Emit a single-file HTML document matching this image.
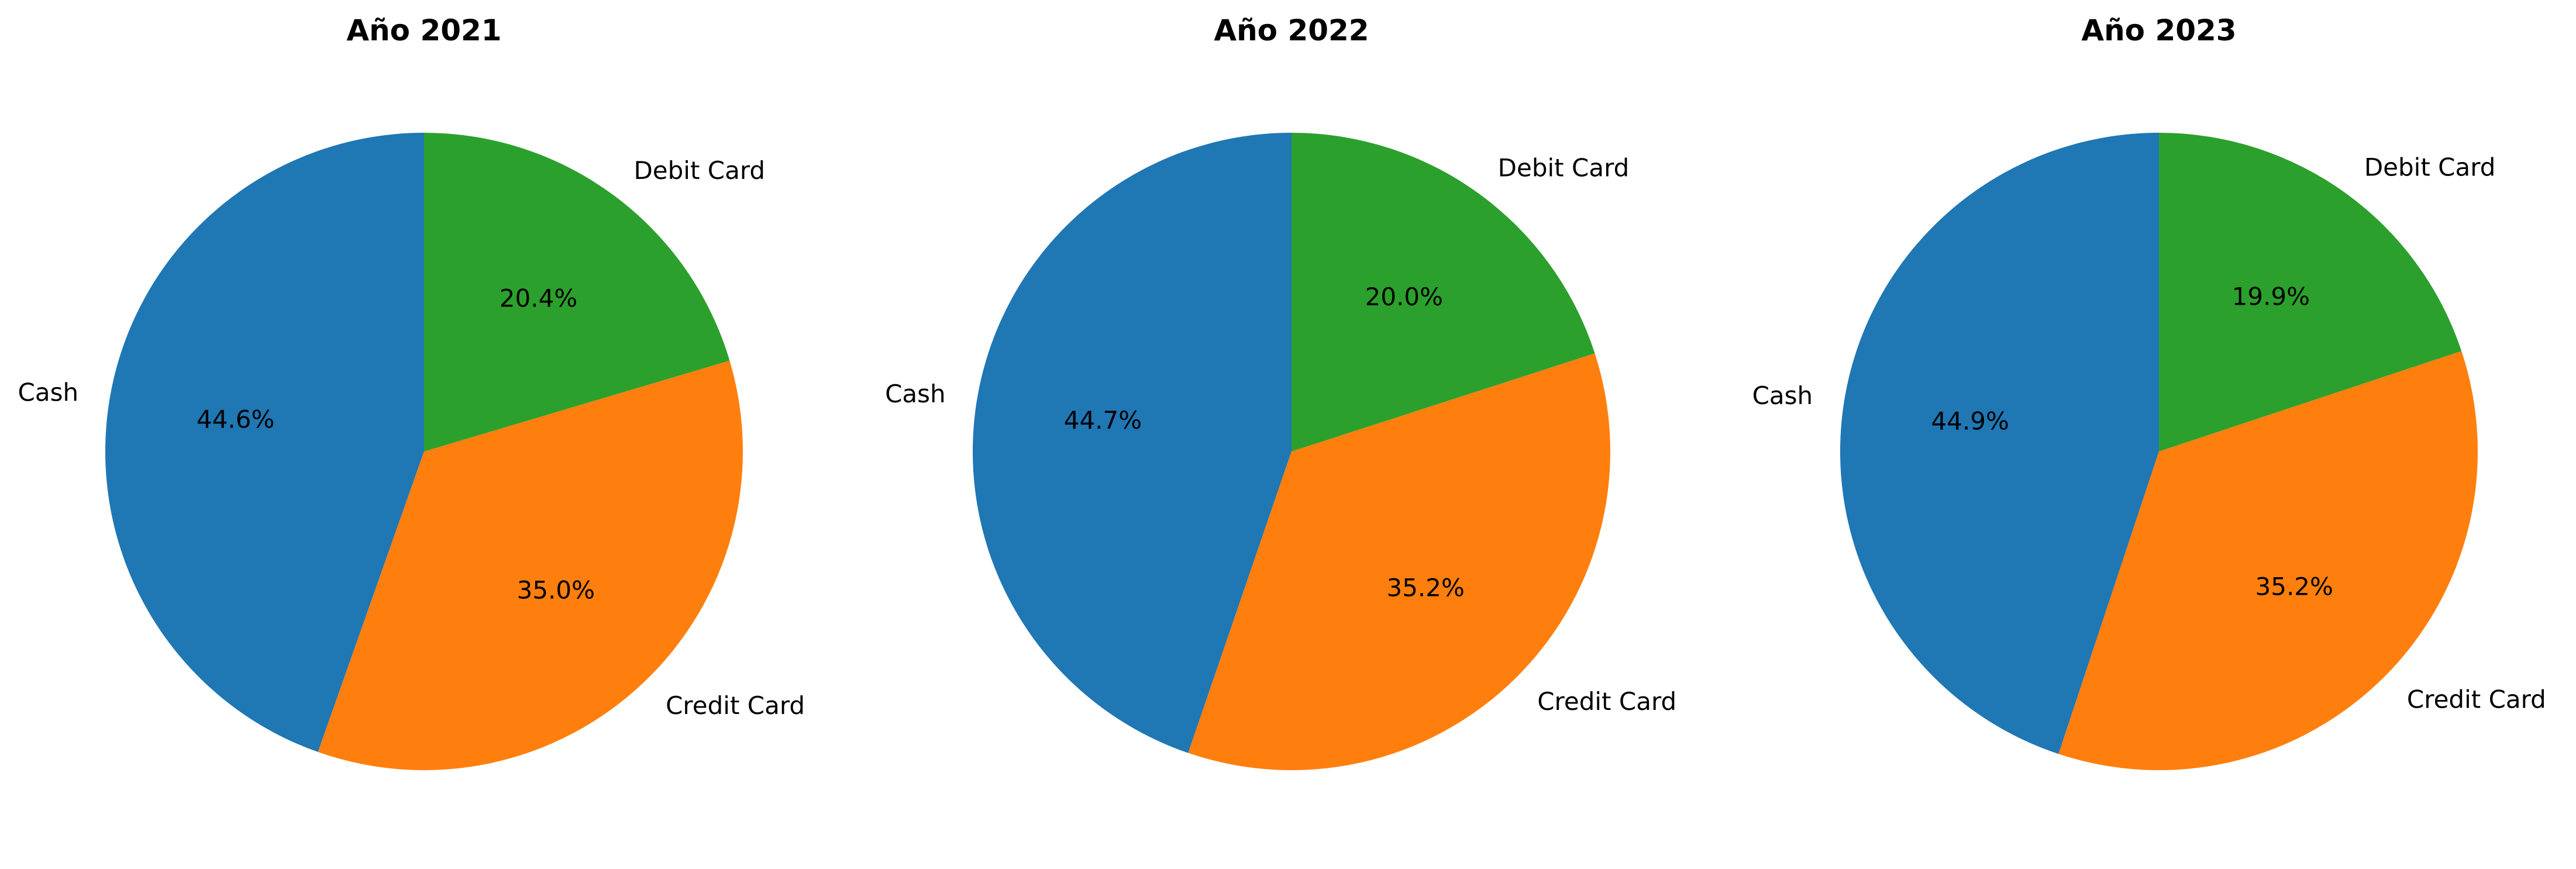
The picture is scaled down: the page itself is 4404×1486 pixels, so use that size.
<!DOCTYPE html>
<html><head><meta charset="utf-8"><style>
html,body{margin:0;padding:0;background:#fff;}
svg{display:block;font-family:"DejaVu Sans","Liberation Sans",sans-serif;}
</style></head><body>
<svg id="chart" width="4404" height="1486" viewBox="0 0 4404 1486" xmlns="http://www.w3.org/2000/svg"></svg>
<script>
const years = ["Año 2021", "Año 2022", "Año 2023"];
const categories = ["Cash", "Credit Card", "Debit Card"];
const values2021 = [44.6, 35.0, 20.4];
const values2022 = [44.7, 35.2, 20.0];
const values2023 = [44.9, 35.2, 19.9];
const seriesValues = [values2021, values2022, values2023];
const colors = ["#1f77b4", "#ff7f0e", "#2ca02c"];

const svg = document.getElementById('chart');
const NS = "http://www.w3.org/2000/svg";
const R = 545, CY = 772, CX0 = 725, DX = 1483;
function pt(cx, cy, r, deg){ const a = deg*Math.PI/180; return [cx + r*Math.cos(a), cy - r*Math.sin(a)]; }

seriesValues.forEach((vals, p) => {
  const cx = CX0 + p*DX;
  const g = document.createElementNS(NS, 'g');
  
  
  svg.appendChild(g);
  const title = document.createElementNS(NS, 'text');
  
  
  title.setAttribute('x', cx); title.setAttribute('y', 69);
  title.setAttribute('text-anchor', 'middle');
  title.setAttribute('font-size', '50'); title.setAttribute('font-weight', 'bold');
  title.textContent = years[p];
  g.appendChild(title);
  const total = vals.reduce((a, b) => a + b, 0);
  let start = 90;
  vals.forEach((v, i) => {
    const sweep = v/total*360;
    const end = start + sweep;
    const [x1, y1] = pt(cx, CY, R, start);
    const [x2, y2] = pt(cx, CY, R, end);
    const path = document.createElementNS(NS, 'path');
    
    
    path.setAttribute('d', `M${cx},${CY} L${x1},${y1} A${R},${R} 0 ${sweep>180?1:0} 0 ${x2},${y2} Z`);
    path.setAttribute('fill', colors[i]);
    g.appendChild(path);
    const mid = start + sweep/2;
    const [lx, ly] = pt(cx, CY, R*1.1, mid);
    const lab = document.createElementNS(NS, 'text');
    
    
    lab.setAttribute('x', lx); lab.setAttribute('y', ly);
    lab.setAttribute('text-anchor', lx < cx ? 'end' : 'start');
    lab.setAttribute('dominant-baseline', 'central');
    lab.setAttribute('font-size', '42');
    lab.textContent = categories[i];
    g.appendChild(lab);
    const [px, py] = pt(cx, CY, R*0.6, mid);
    const pct = document.createElementNS(NS, 'text');
    
    
    pct.setAttribute('x', px); pct.setAttribute('y', py);
    pct.setAttribute('text-anchor', 'middle');
    pct.setAttribute('dominant-baseline', 'central');
    pct.setAttribute('font-size', '42');
    pct.textContent = v.toFixed(1) + '%';
    g.appendChild(pct);
    start = end;
  });
});
</script>
</body></html>
